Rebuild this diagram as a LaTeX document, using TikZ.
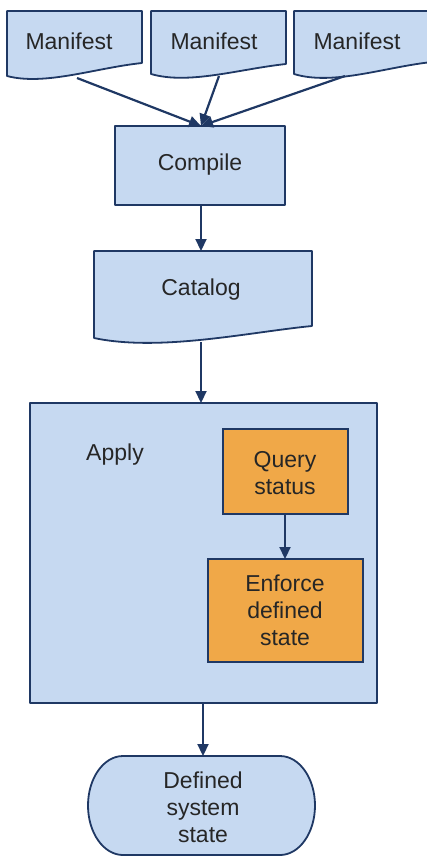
\documentclass[tikz,border=0pt]{standalone}
\usepackage{fontspec}
\setmainfont{Liberation Sans}
\usetikzlibrary{arrows.meta}
\definecolor{boxfill}{HTML}{C6D9F1}
\definecolor{boxline}{HTML}{1F3864}
\definecolor{orangefill}{HTML}{F0A848}
\begin{document}
\begin{tikzpicture}[x=1pt,y=-1pt,
  shapebox/.style={fill=boxfill,draw=boxline,line width=1.8pt,line join=round},
  orangebox/.style={fill=orangefill,draw=boxline,line width=1.8pt},
  lbl/.style={font=\fontsize{23}{27}\selectfont,text=black!85,align=center,inner sep=0pt},
  conn/.style={draw=boxline,line width=2.2pt,-{Triangle[length=12pt,width=11pt]}}]
\useasboundingbox (0,0) rectangle (427,857);
% Manifest documents
\path[shapebox] (7,11) -- (142,11) -- (142,63) .. controls (95,68) and (45,86) .. (7,76) -- cycle;
\path[shapebox] (151,11) -- (286,11) -- (286,64) .. controls (239,69) and (189,85) .. (151,74) -- cycle;
\path[shapebox] (294,11) -- (432,11) -- (432,62) .. controls (385,67) and (333,86) .. (294,74) -- cycle;
\node[lbl] (m1) at (69,41) {Manifest};
\node[lbl] (m2) at (214,41) {Manifest};
\node[lbl] (m3) at (357,41) {Manifest};
\coordinate (m1b) at (77,78);
\coordinate (m2b) at (219,76);
\coordinate (m3b) at (345,76);
% Compile
\path[shapebox] (115,126) rectangle (285,205);
\node[lbl] (compile) at (200,165) {Compile};
\coordinate (compt) at (201,126);
\coordinate (compb) at (201,205);
% Catalog
\path[shapebox] (94,251) -- (312,251) -- (312,326) .. controls (250,332) and (160,352) .. (94,338) -- cycle;
\node[lbl] (catalog) at (201,290) {Catalog};
\coordinate (catt) at (201,251);
\coordinate (catb) at (201,342);
% Apply
\path[shapebox] (30,403) rectangle (377,703);
\node[lbl] (apply) at (115,455) {Apply};
\coordinate (applyt) at (201,403);
\coordinate (applyb) at (203,703);
% Query status
\path[orangebox] (223,429) rectangle (348,514);
\node[lbl] (query) at (285,473) {Query\\status};
\coordinate (queryb) at (285,514);
% Enforce
\path[orangebox] (208,559) rectangle (363,662);
\node[lbl] (enforce) at (285,610) {Enforce\\defined\\state};
\coordinate (enft) at (285,559);
% Terminal
\path[shapebox] (123,756) -- (280,756) arc[start angle=90,end angle=-90,x radius=35,y radius=-49.5] -- (123,855) arc[start angle=270,end angle=90,x radius=35,y radius=-49.5] -- cycle;
\node[lbl] (final) at (203,807) {Defined\\system\\state};
\coordinate (finalt) at (203,756);
% connectors
\draw[conn] (m1b) -- (compt);
\draw[conn] (m2b) -- (compt);
\draw[conn] (m3b) -- (compt);
\draw[conn] (compb) -- (catt);
\draw[conn] (catb) -- (applyt);
\draw[conn] (queryb) -- (enft);
\draw[conn] (applyb) -- (finalt);
\end{tikzpicture}
\end{document}
